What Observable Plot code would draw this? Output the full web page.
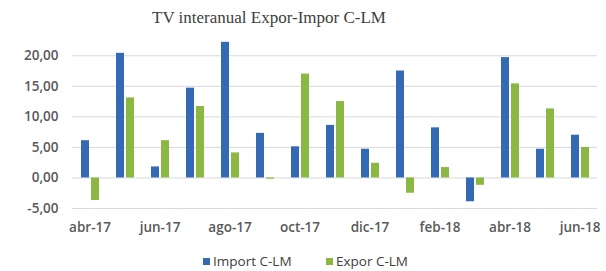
<!DOCTYPE html>
<html>
<head>
<meta charset="utf-8">
<script src="https://cdn.jsdelivr.net/npm/d3@7"></script>
<script src="https://cdn.jsdelivr.net/npm/@observablehq/plot@0.6"></script>
<style>
  body { margin: 0; background: #fff; width: 606px; height: 271px; overflow: hidden; font-family: "Open Sans", sans-serif; }
  #title { height: 32px; position: relative; }
  #title span { position: absolute; left: 152px; top: 8px; font-family: "Liberation Serif", serif; font-size: 17px; color: #404040; white-space: nowrap; }
  #legend { position: relative; height: 29px; font-size: 13.5px; color: #404040; }
  .item { position: absolute; top: 10px; white-space: nowrap; }
  .sw { display: inline-block; width: 7px; height: 7px; margin-right: 3px; vertical-align: 1px; }
</style>
</head>
<body>
<div id="title"><span>TV interanual Expor-Impor C-LM</span></div>
<div id="chart"></div>
<div id="legend"></div>
<script>
const months = ["abr-17","may-17","jun-17","jul-17","ago-17","sep-17","oct-17","nov-17","dic-17","ene-18","feb-18","mar-18","abr-18","may-18","jun-18"];
const importCLM = [6.1, 20.4, 1.8, 14.7, 22.2, 7.3, 5.1, 8.6, 4.7, 17.5, 8.2, -3.9, 19.7, 4.7, 7.0];
const exporCLM = [-3.7, 13.1, 6.1, 11.7, 4.1, -0.2, 17.0, 12.5, 2.4, -2.5, 1.7, -1.2, 15.4, 11.3, 5.0];
const seriesNames = ["Import C-LM", "Expor C-LM"];
const seriesColors = ["#3469b3", "#8bb842"];
const yTicks = [-5, 0, 5, 10, 15, 20];
const xTickLabels = ["abr-17","jun-17","ago-17","oct-17","dic-17","feb-18","abr-18","jun-18"];

const data = [];
months.forEach((m, i) => {
  data.push({month: m, series: seriesNames[0], value: importCLM[i]});
  data.push({month: m, series: seriesNames[1], value: exporCLM[i]});
});

const fmt = d => d.toFixed(2).replace(".", ",");

const plot = Plot.plot({
  width: 606,
  height: 210,
  marginLeft: 68,
  marginRight: 6,
  marginTop: 8,
  marginBottom: 34,
  style: {fontFamily: "Open Sans, sans-serif", fontSize: "13.5px", fontWeight: 600, color: "#595959"},
  fx: {domain: months, padding: 0, label: null, ticks: xTickLabels, tickSize: 0, tickPadding: 14},
  x: {domain: seriesNames, paddingInner: 0.24, paddingOuter: 0.81, axis: null},
  y: {domain: [-5, 22.5], label: null, ticks: yTicks, tickSize: 0, tickPadding: 14, tickFormat: fmt},
  color: {domain: seriesNames, range: seriesColors},
  marks: [
    Plot.gridY(yTicks, {stroke: "#d9d9d9", strokeOpacity: 1}),
    Plot.barY(data, {fx: "month", x: "series", y: "value", fill: "series"})
  ]
});
document.getElementById("chart").appendChild(plot);

const legend = document.getElementById("legend");
const positions = [203, 326];
seriesNames.forEach((s, i) => {
  const div = document.createElement("div");
  div.className = "item";
  div.style.left = positions[i] + "px";
  div.innerHTML = `<span class="sw" style="background:${seriesColors[i]}"></span>${s}`;
  legend.appendChild(div);
});
</script>
</body>
</html>
